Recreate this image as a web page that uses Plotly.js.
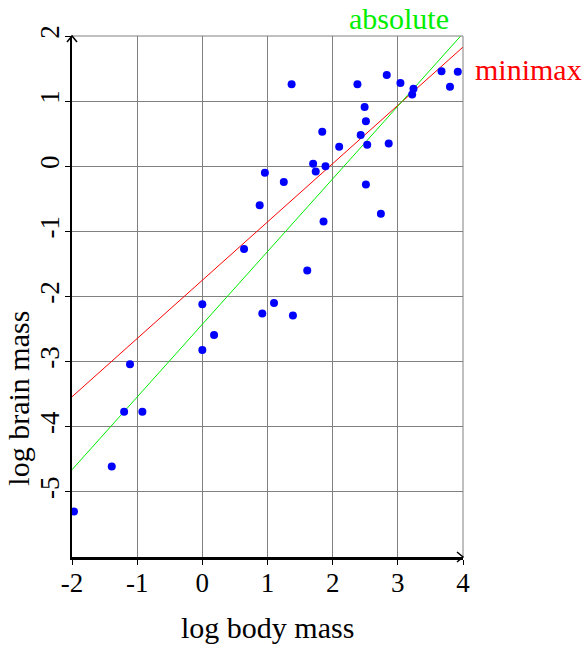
<!DOCTYPE html>
<html>
<head>
<meta charset="utf-8">
<script src="https://cdn.plot.ly/plotly-3.0.1.min.js"></script>
<style>
  html, body { margin: 0; padding: 0; background: #fff; }
  #chart { width: 588px; height: 646px; }
</style>
</head>
<body>
<div id="chart"></div>
<script>
// log body mass / log brain mass
const bodyMass = [-1.97, -1.39, -1.20, -0.92, -1.11, 0.00, 0.00, 0.18, 0.92, 1.10,
                  1.39, 1.37, 2.38, 2.83, 3.04, 3.24, 3.22, 3.67, 3.92, 3.80,
                  2.49, 2.51, 1.84, 2.43, 2.10, 2.53, 2.86, 1.70, 1.89, 1.74,
                  0.96, 1.25, 2.51, 0.88, 2.74, 1.86, 0.64, 1.61];
const brainMass = [-5.30, -4.61, -3.77, -3.77, -3.04, -2.12, -2.82, -2.59, -2.26, -2.10,
                   -2.29, 1.26, 1.26, 1.40, 1.28, 1.19, 1.10, 1.46, 1.45, 1.22,
                   0.91, 0.69, 0.53, 0.48, 0.30, 0.33, 0.35, 0.04, 0.00, -0.08,
                   -0.10, -0.24, -0.28, -0.60, -0.73, -0.85, -1.27, -1.60];

// fitted lines, evaluated at the ends of the x range
const fitX = [-2, 4];
const minimaxY = [-3.54, 1.83];
const absoluteY = [-4.66, 2.04];

const xTicks = [-2, -1, 0, 1, 2, 3, 4];
const xTickText = ['-2', '-1', '0', '1', '2', '3', '4'];
const yTicks = [-5, -4, -3, -2, -1, 0, 1, 2];
const yTickText = ['-5', '-4', '-3', '-2', '-1', '0', '1', '2'];

const serif = 'Liberation Serif, serif';

let traces = [
    {
        type: 'scatter', mode: 'lines',
        x: fitX, y: minimaxY,
        line: { color: '#ff0000', width: 1 },
        hoverinfo: 'skip'
    },
    {
        type: 'scatter', mode: 'lines',
        x: fitX, y: absoluteY,
        line: { color: '#00ee00', width: 1 },
        hoverinfo: 'skip'
    },
    {
        type: 'scatter', mode: 'markers',
        x: bodyMass, y: brainMass,
        marker: { color: '#0000ff', size: 8 },
        cliponaxis: false
    }
];

let axisCommon = {
    showgrid: true,
    gridcolor: '#808080',
    gridwidth: 1,
    zeroline: false,
    showline: true,
    linecolor: '#000',
    linewidth: 2.5,
    ticks: 'outside',
    ticklen: 5,
    tickcolor: '#000',
    tickwidth: 1,
    tickfont: { family: serif, size: 27, color: '#000' }
};

let layout = {
    width: 588,
    height: 646,
    margin: { l: 72, r: 125, t: 36, b: 89 },
    paper_bgcolor: '#fff',
    plot_bgcolor: '#fff',
    showlegend: false,
    font: { family: serif, color: '#000' },
    xaxis: Object.assign({}, axisCommon, {
        range: [-2, 4],
        tickvals: xTicks,
        ticktext: xTickText,
        ticklabelstandoff: -5
    }),
    yaxis: Object.assign({}, axisCommon, {
        range: [-6, 2],
        tickvals: yTicks,
        ticktext: yTickText,
        tickangle: -90,
        ticklabelstandoff: -5
    }),
    shapes: [
        // top and right edge of the frame
        {
            type: 'path', xref: 'paper', yref: 'paper',
            path: 'M 0,1 L 1,1 L 1,0',
            line: { color: '#808080', width: 1 }
        },
        // arrow heads on the axes
        {
            type: 'path', xref: 'paper', yref: 'paper',
            xsizemode: 'pixel', ysizemode: 'pixel', xanchor: 1, yanchor: 0,
            path: 'M -6,5 L 0,0 L -6,-5',
            line: { color: '#000', width: 1.5 }
        },
        {
            type: 'path', xref: 'paper', yref: 'paper',
            xsizemode: 'pixel', ysizemode: 'pixel', xanchor: 0, yanchor: 1,
            path: 'M -5,-6 L 0,0 L 5,-6',
            line: { color: '#000', width: 1.5 }
        }
    ],
    annotations: [
        {
            text: 'log body mass', xref: 'paper', yref: 'paper',
            x: 0.5, y: -0.1708, xanchor: 'center', yanchor: 'bottom',
            showarrow: false, font: { family: serif, size: 30, color: '#000' }
        },
        {
            text: 'log brain mass', xref: 'paper', yref: 'paper',
            x: -0.184, y: 0.305, xanchor: 'left', yanchor: 'middle',
            textangle: -90,
            showarrow: false, font: { family: serif, size: 30, color: '#000' }
        },
        {
            text: 'absolute', xref: 'paper', yref: 'paper',
            x: 0.836, y: 1.069, xanchor: 'center', yanchor: 'top',
            showarrow: false, font: { family: serif, size: 30, color: '#00ee00' }
        },
        {
            text: 'minimax', xref: 'paper', yref: 'paper',
            x: 1.026, y: 0.935, xanchor: 'left', yanchor: 'middle',
            showarrow: false, font: { family: serif, size: 30, color: '#ff0000' }
        }
    ]
};

Plotly.newPlot('chart', traces, layout, { displayModeBar: false, staticPlot: true });
</script>
</body>
</html>
